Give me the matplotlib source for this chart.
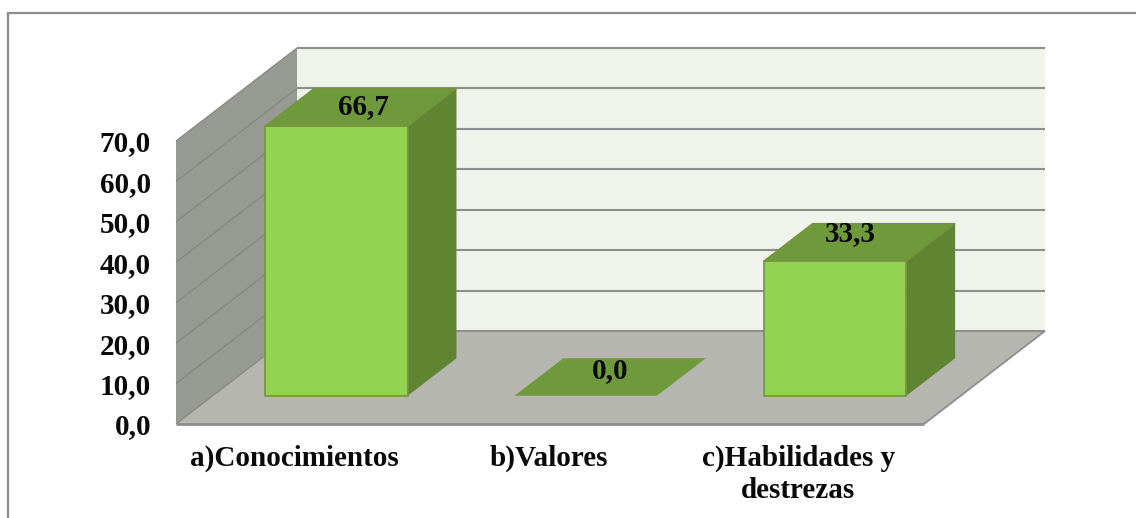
import matplotlib
matplotlib.use("Agg")
import matplotlib.pyplot as plt
from matplotlib.patches import Polygon
from matplotlib.lines import Line2D

categories = ["a)Conocimientos", "b)Valores", "c)Habilidades y\ndestrezas"]
values = [66.7, 0.0, 33.3]
y_ticks = [0, 10, 20, 30, 40, 50, 60, 70]
value_labels = ["66,7", "0,0", "33,3"]

W, H = 1136, 518
FONT = "Liberation Serif"
GRID = "#8e8e8c"
fig = plt.figure(figsize=(W / 100, H / 100), dpi=100, facecolor="white")
L, R, T, B = 176, 924, 141, 424
ax = fig.add_axes([L / W, 1 - B / H, (R - L) / W, (B - T) / H])
ax.set_xlim(0, 3)
ax.set_ylim(0, 70)
ax.patch.set_visible(False)
for s in ax.spines.values():
    s.set_visible(False)

px_x = 3 / (R - L)
px_y = 70 / (B - T)
DX, DY = 121 * px_x, 93 * px_y   # full chart depth in data units


def P(x, y, d=0.0):
    return (x + d * DX, y + d * DY)


def poly(pts, fc, ec="none", lw=0.0, z=1):
    ax.add_patch(Polygon(pts, closed=True, facecolor=fc, edgecolor=ec, linewidth=lw,
                         zorder=z, clip_on=False, joinstyle="miter"))


def line(pts, lw, color=GRID, z=2):
    xs, ys = zip(*pts)
    ax.plot(xs, ys, color=color, lw=lw, zorder=z, clip_on=False,
            solid_joinstyle="miter", solid_capstyle="butt")


# walls and floor
poly([P(0, 0), P(0, 70), P(0, 70, 1), P(0, 0, 1)], "#979a92", z=1)
poly([P(0, 0, 1), P(0, 70, 1), P(3, 70, 1), P(3, 0, 1)], "#f0f2ec", z=1)
poly([P(0, 0), P(3, 0), P(3, 0, 1), P(0, 0, 1)], "#b4b6af", z=1)

# gridlines
for t in y_ticks:
    line([P(0, t), P(0, t, 1)], 0.9, "#85887f")
    line([P(0, t, 1), P(3, t, 1)], 1.5)
line([P(0, 0), P(3, 0)], 2.0)
line([P(3, 0), P(3, 0, 1)], 1.3)

# bars
BAR_W = 142.5 * px_x
BAR_SHIFT = -1 * px_x
D0, D1 = 0.304, 0.707
FRONT, TOP, SIDE, EDGE = "#92d350", "#6f9a3c", "#5f8432", "#76923c"
label_shift = [(3, 1), (0, 6), (-9, 9)]  # pixels right/up from the top-face centre
for i, v in enumerate(values):
    x0 = i + 0.5 - BAR_W / 2 + BAR_SHIFT
    x1 = x0 + BAR_W
    z = 3 + i
    if v > 0:
        poly([P(x1, 0, D0), P(x1, v, D0), P(x1, v, D1), P(x1, 0, D1)], SIDE, z=z)
        poly([P(x0, 0, D0), P(x1, 0, D0), P(x1, v, D0), P(x0, v, D0)], FRONT, EDGE, 1.2, z=z + 0.2)
    poly([P(x0, v, D0), P(x1, v, D0), P(x1, v, D1), P(x0, v, D1)], TOP, EDGE if v > 0 else "none",
         1.0, z=z + 0.1)
    cx, cy = P((x0 + x1) / 2, v, (D0 + D1) / 2)
    sx, sy = label_shift[i]
    ax.text(cx + sx * px_x, cy + sy * px_y, value_labels[i], ha="center", va="center",
            family=FONT, weight="bold", fontsize=21, color="#0a0a0a", zorder=10)

# axis labels
ax.set_yticks(y_ticks)
ax.set_yticklabels([f"{t:.1f}".replace(".", ",") for t in y_ticks], family=FONT,
                   weight="bold", fontsize=21, color="#0a0a0a")
ax.tick_params(axis="y", length=0, pad=25 * 0.72)
ax.set_xticks([])
cat_shift = [-6.5, -1, -1]
for i, c in enumerate(categories):
    ax.annotate(c, xy=(i + 0.5, 0), xycoords="data", xytext=(cat_shift[i] * 0.72, -21 * 0.72),
                textcoords="offset points", ha="center", va="top", family=FONT, weight="bold",
                fontsize=21, color="#0a0a0a", linespacing=1.22, annotation_clip=False)

# outer frame: only the left and top edges fall inside the picture
fig.add_artist(Line2D([8 / W, 8 / W, 1], [0, 1 - 13 / H, 1 - 13 / H], transform=fig.transFigure,
                      color="#8c8c8c", linewidth=1.6, solid_joinstyle="miter", zorder=20))

fig.savefig("out.png", dpi=100, facecolor="white")
